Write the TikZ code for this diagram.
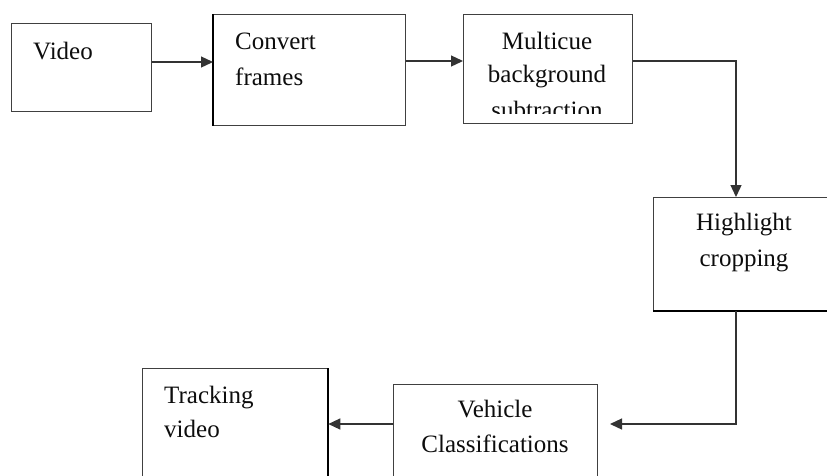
\documentclass[tikz,border=0pt]{standalone}
\usepackage{fontspec}
\setmainfont{Liberation Serif}
\usetikzlibrary{arrows.meta}
\tikzset{
  box/.style={draw=black!75, line width=1.3pt, anchor=north west, inner sep=0pt},
  lbl/.style={inner sep=0pt, text=black!95, font=\fontsize{25}{30}\selectfont},
  conn/.style={draw=black!80, line width=1.3pt, -{Triangle[length=12pt,width=11pt]}},
}
\begin{document}
\begin{tikzpicture}[x=1pt,y=-1pt]
\useasboundingbox (0,0) rectangle (827,475);
\clip (0,0) rectangle (827,475);
\fill[white] (0,0) rectangle (827,475);
% boxes
\node[box, minimum width=140pt, minimum height=88pt] (video) at (11,23) {};
\node[box, minimum width=192pt, minimum height=111pt] (conv) at (213,14) {};
\node[box, minimum width=169pt, minimum height=109pt] (multi) at (463,14) {};
\node[box, minimum width=190pt, minimum height=113pt] (high) at (653,197) {};
\node[box, minimum width=204pt, minimum height=110pt] (vehic) at (393,384) {};
\node[box, minimum width=185pt, minimum height=120pt] (track) at (142,368) {};
\draw[black, line width=2.2pt] (high.south west) -- (high.south east);
\draw[black, line width=1.8pt] (track.north east) -- (track.south east);
\draw[black, line width=1.8pt] (conv.north west) -- (conv.south west);
% texts
\node[lbl, anchor=base west] (videoT) at (33,59) {Video};
\node[lbl, anchor=base west] (convT1) at (235,49) {Convert};
\node[lbl, anchor=base west] (convT2) at (235,85) {frames};
\node[lbl, anchor=base] (multiT1) at (547,49) {Multicue};
\node[lbl, anchor=base] (multiT2) at (547,82) {background};
\begin{scope}
  \clip (463,14) rectangle (632,113);
  \node[lbl, anchor=base] (multiT3) at (547,118) {subtraction};
\end{scope}
\node[lbl, anchor=base] (highT1) at (744,230) {Highlight};
\node[lbl, anchor=base] (highT2) at (744,266) {cropping};
\node[lbl, anchor=base] (vehicT1) at (495,417) {Vehicle};
\node[lbl, anchor=base] (vehicT2) at (495,452) {Classifications};
\node[lbl, anchor=base west] (trackT1) at (164,403) {Tracking};
\node[lbl, anchor=base west] (trackT2) at (164,437) {video};
% connectors
\draw[conn] (video.east |- 0,62) -- (conv.west |- 0,62);
\draw[conn] (conv.east |- 0,61) -- (multi.west |- 0,61);
\draw[conn] (multi.east |- 0,61) -| (high.north -| 736,0);
\coordinate (vin) at (610,424);
\draw[conn] (high.south -| 736,0) |- (vin);
\draw[conn] (vehic.west |- 0,424) -- (track.east |- 0,424);
\end{tikzpicture}
\end{document}
